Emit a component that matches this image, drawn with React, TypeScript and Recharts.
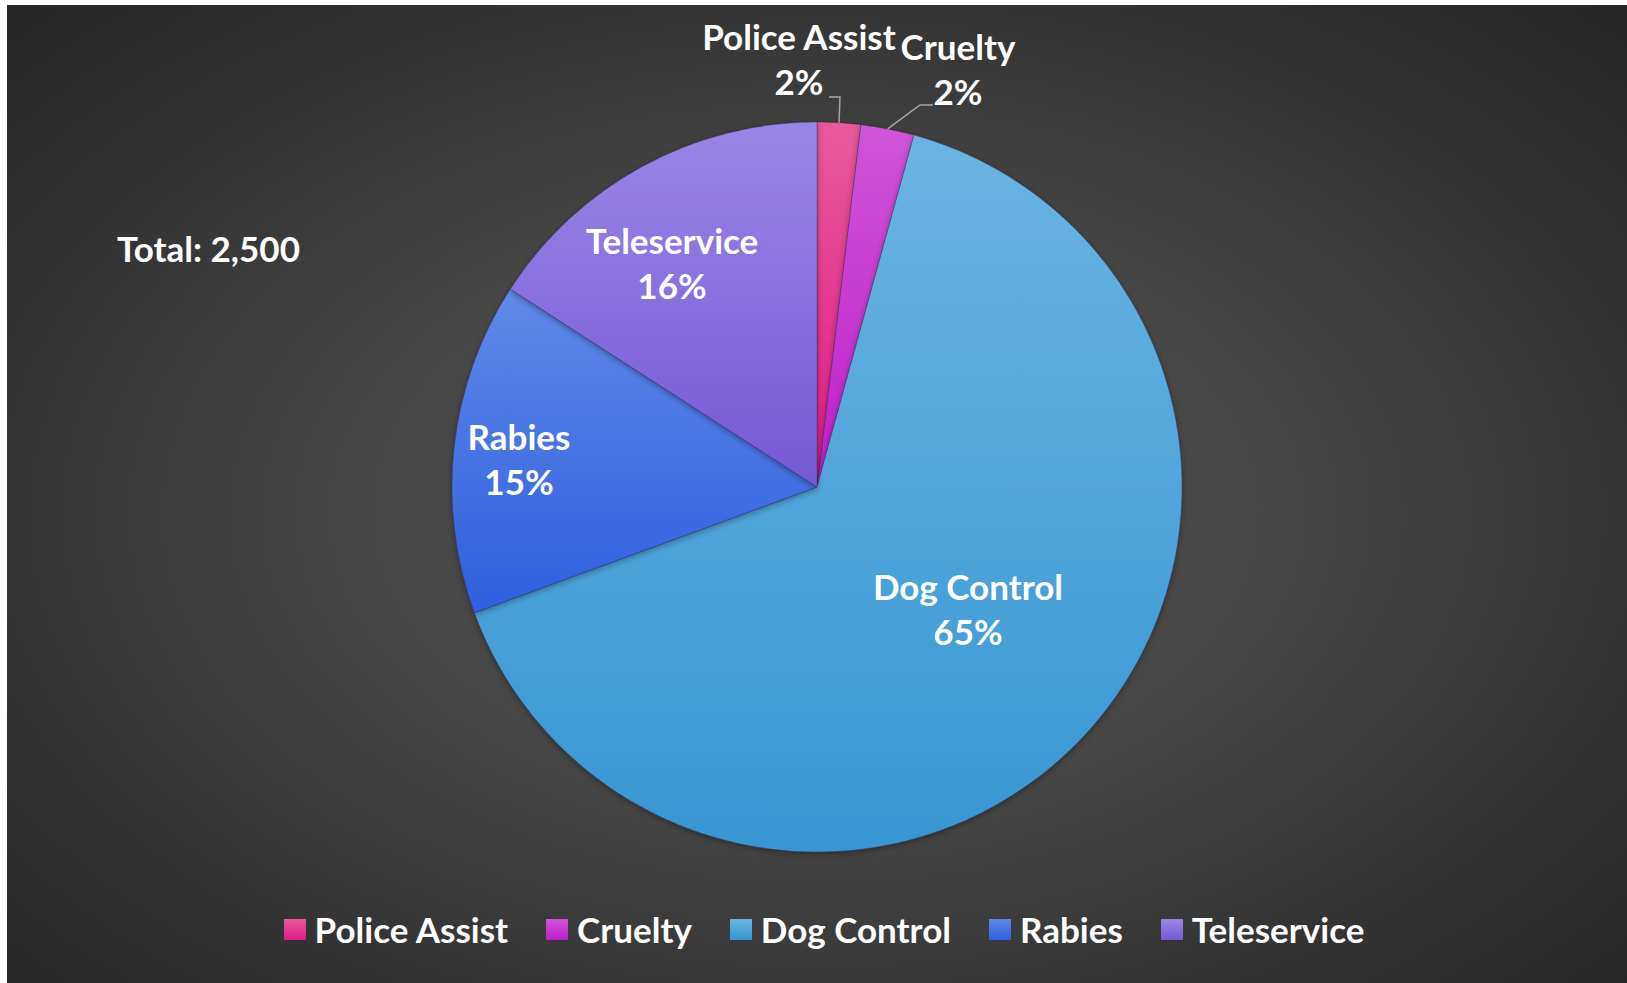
import React from 'react';
import { PieChart, Pie, Cell, Legend } from 'recharts';

const categories = ['Police Assist', 'Cruelty', 'Dog Control', 'Rabies', 'Teleservice'];
const counts = [48, 59, 1628, 368, 397];
const topColors = ['#e85a9c', '#cf55d8', '#6ab4e3', '#6089e9', '#9a86e6'];
const bottomColors = ['#e01a86', '#bf1fc9', '#3896d3', '#2f5fdf', '#7558d6'];

// label anchor (name baseline) relative to pie centre, px
const labelOffsets: number[][] = [[-18, -437], [141, -427], [151, 113], [-298, -37], [-145, -233]];
const leaderLines: Record<number, number[][]> = {
  0: [[12, -390], [23, -390]],
  1: [[116, -382], [103, -382]],
};

const data = categories.map((name, i) => ({ name, value: counts[i] }));
const total = counts.reduce((a, b) => a + b, 0);

const W = 1620;
const H = 978;
const FONT = 'Lato, "Open Sans", sans-serif';
const FS = 35;
const RAD = Math.PI / 180;

const renderLabel = (props: any) => {
  const { cx, cy, midAngle, outerRadius, percent, index, name } = props;
  const off = labelOffsets[index];
  const x = cx + off[0];
  const y = cy + off[1];
  const pct = Math.round(percent * 100) + '%';
  const ll = leaderLines[index];
  let path = null;
  if (ll) {
    const ex = cx + outerRadius * Math.cos(-midAngle * RAD);
    const ey = cy + outerRadius * Math.sin(-midAngle * RAD);
    const d = `M${cx + ll[0][0]},${cy + ll[0][1]} L${cx + ll[1][0]},${cy + ll[1][1]} L${ex},${ey}`;
    path = <path d={d} stroke="#a6a6a6" strokeWidth={1.5} fill="none" />;
  }
  return (
    <g key={'lbl' + index}>
      {path}
      <text x={x} y={y} textAnchor="middle" fill="#ffffff" fontFamily={FONT} fontWeight={700} fontSize={FS}>
        {name}
      </text>
      <text x={x} y={y + 45} textAnchor="middle" fill="#ffffff" fontFamily={FONT} fontWeight={700} fontSize={FS}>
        {pct}
      </text>
    </g>
  );
};

const renderLegend = () => (
  <div style={{ display: 'flex', justifyContent: 'center', alignItems: 'center', gap: 38, paddingLeft: 14 }}>
    {categories.map((c, i) => (
      <div key={c} style={{ display: 'flex', alignItems: 'center' }}>
        <div
          style={{
            width: 22,
            height: 21,
            background: `linear-gradient(to bottom, ${topColors[i]}, ${bottomColors[i]})`,
            marginRight: 9,
          }}
        />
        <span style={{ color: '#fff', fontFamily: FONT, fontWeight: 700, fontSize: FS, lineHeight: FS + 'px' }}>{c}</span>
      </div>
    ))}
  </div>
);

export default function App() {
  return (
    <div style={{ position: 'absolute', left: 0, top: 0, width: 1627, height: 983, background: '#ffffff', overflow: 'hidden' }}>
      <div
        style={{
          position: 'absolute',
          left: 7,
          top: 5,
          width: W,
          height: H,
          background: 'radial-gradient(ellipse at 50% 52%, #4d4d4d 0%, #474747 40%, #2f2f2f 80%, #262626 100%)',
        }}
      >
        <div
          style={{
            position: 'absolute',
            left: 110,
            top: 226,
            color: '#fff',
            fontFamily: FONT,
            fontWeight: 700,
            fontSize: FS,
            lineHeight: FS + 'px',
            whiteSpace: 'nowrap',
          }}
        >
          {'Total: ' + total.toLocaleString('en-US')}
        </div>
        <PieChart width={W} height={H} margin={{ top: 0, right: 0, bottom: 0, left: 0 }} style={{ position: 'absolute', left: 0, top: 0 }}>
          <defs>
            {categories.map((c, i) => (
              <linearGradient key={c} id={'grad' + i} x1="0" y1="0" x2="0" y2="1">
                <stop offset="0%" stopColor={topColors[i]} />
                <stop offset="100%" stopColor={bottomColors[i]} />
              </linearGradient>
            ))}
            <filter id="pieShadow" x="-10%" y="-10%" width="120%" height="120%">
              <feDropShadow dx="0" dy="2" stdDeviation="3" floodColor="#000" floodOpacity="0.35" />
            </filter>
          </defs>
          <Pie
            data={data}
            dataKey="value"
            nameKey="name"
            cx={810}
            cy={482}
            outerRadius={365}
            innerRadius={0}
            startAngle={90}
            endAngle={-270}
            stroke="rgba(50,40,90,0.35)"
            strokeWidth={1}
            label={renderLabel}
            labelLine={false}
            isAnimationActive={false}
            style={{ filter: 'url(#pieShadow)' }}
          >
            {data.map((d, i) => (
              <Cell key={d.name} fill={`url(#grad${i})`} />
            ))}
          </Pie>
          <Legend
            verticalAlign="bottom"
            content={renderLegend}
            wrapperStyle={{ position: 'absolute', left: 0, top: 907, width: W }}
          />
        </PieChart>
      </div>
    </div>
  );
}
